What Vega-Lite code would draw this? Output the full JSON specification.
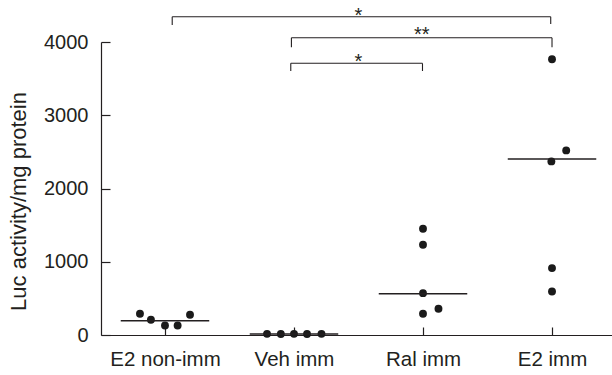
{
  "$schema": "https://vega.github.io/schema/vega-lite/v6.json",
  "width": 511,
  "height": 293,
  "autosize": {"type": "none"},
  "padding": {"left": 101, "top": 42, "right": 0, "bottom": 40},
  "background": "white",
  "config": {
    "view": {"stroke": null},
    "font": "Liberation Sans",
    "axis": {"grid": false, "domainColor": "#231f20", "tickColor": "#231f20", "labelColor": "#231f20", "titleColor": "#231f20", "labelFont": "Liberation Sans", "titleFont": "Liberation Sans", "titleFontWeight": "normal", "domainWidth": 1.2, "tickWidth": 1.2}
  },
  "datasets": {
    "points": [
      {"group": "E2 non-imm", "pos": -0.194, "value": 290},
      {"group": "E2 non-imm", "pos": -0.109, "value": 208},
      {"group": "E2 non-imm", "pos": 0.0, "value": 130},
      {"group": "E2 non-imm", "pos": 0.098, "value": 130},
      {"group": "E2 non-imm", "pos": 0.194, "value": 276},
      {"group": "Veh imm", "pos": 0.791, "value": 16},
      {"group": "Veh imm", "pos": 0.898, "value": 14},
      {"group": "Veh imm", "pos": 1.0, "value": 16},
      {"group": "Veh imm", "pos": 1.101, "value": 14},
      {"group": "Veh imm", "pos": 1.213, "value": 16},
      {"group": "Ral imm", "pos": 2.0, "value": 1451},
      {"group": "Ral imm", "pos": 2.0, "value": 1232},
      {"group": "Ral imm", "pos": 2.0, "value": 571},
      {"group": "Ral imm", "pos": 2.0, "value": 290},
      {"group": "Ral imm", "pos": 2.12, "value": 358},
      {"group": "E2 imm", "pos": 3.0, "value": 3764},
      {"group": "E2 imm", "pos": 3.11, "value": 2520},
      {"group": "E2 imm", "pos": 2.995, "value": 2370},
      {"group": "E2 imm", "pos": 3.0, "value": 913},
      {"group": "E2 imm", "pos": 3.0, "value": 594}
    ],
    "medians": [
      {"group": "E2 non-imm", "start": -0.343, "end": 0.343, "value": 194},
      {"group": "Veh imm", "start": 0.657, "end": 1.343, "value": 14},
      {"group": "Ral imm", "start": 1.657, "end": 2.343, "value": 563},
      {"group": "E2 imm", "start": 2.657, "end": 3.343, "value": 2402}
    ],
    "brackets": [
      {"x": 0.056, "x2": 2.99, "y": 4345, "y2": 4345},
      {"x": 0.056, "x2": 0.056, "y": 4345, "y2": 4232},
      {"x": 2.99, "x2": 2.99, "y": 4345, "y2": 4246},
      {"x": 0.98, "x2": 3.0, "y": 4059, "y2": 4059},
      {"x": 0.98, "x2": 0.98, "y": 4059, "y2": 3928},
      {"x": 3.0, "x2": 3.0, "y": 4059, "y2": 3928},
      {"x": 0.975, "x2": 1.996, "y": 3709, "y2": 3709},
      {"x": 0.975, "x2": 0.975, "y": 3709, "y2": 3604},
      {"x": 1.996, "x2": 1.996, "y": 3709, "y2": 3604}
    ],
    "stars": [
      {"x": 1.5, "y": 4355, "label": "*"},
      {"x": 1.99, "y": 4090, "label": "**"},
      {"x": 1.5, "y": 3722, "label": "*"}
    ]
  },
  "layer": [
    {
      "data": {"name": "points"},
      "mark": {"type": "circle", "size": 62, "opacity": 1, "color": "#1a1a1a"},
      "encoding": {
        "x": {"field": "pos", "type": "quantitative",
          "scale": {"domain": [-0.496, 3.465], "nice": false, "zero": false},
          "axis": {"values": [0, 1, 2, 3], "title": null, "tickSize": -8, "labelPadding": 22, "labelFontSize": 20.5,
            "labelExpr": "['E2 non-imm', 'Veh imm', 'Ral imm', 'E2 imm'][datum.value]", "labelFlush": false}},
        "y": {"field": "value", "type": "quantitative",
          "scale": {"domain": [0, 4000], "nice": false},
          "axis": {"values": [0, 1000, 2000, 3000, 4000], "format": "d", "title": "Luc activity/mg protein", "tickSize": -9, "labelPadding": 22, "labelFontSize": 20, "titleFontSize": 22, "titlePadding": 13, "titleY": 159}}
      }
    },
    {
      "data": {"name": "medians"},
      "mark": {"type": "rule", "color": "#231f20", "strokeWidth": 1.5},
      "encoding": {
        "x": {"field": "start", "type": "quantitative"},
        "x2": {"field": "end"},
        "y": {"field": "value", "type": "quantitative"}
      }
    },
    {
      "data": {"name": "brackets"},
      "mark": {"type": "rule", "color": "#231f20", "strokeWidth": 1.1},
      "encoding": {
        "x": {"field": "x", "type": "quantitative"},
        "x2": {"field": "x2"},
        "y": {"field": "y", "type": "quantitative"},
        "y2": {"field": "y2"}
      }
    },
    {
      "data": {"name": "stars"},
      "mark": {"type": "text", "fontSize": 20, "baseline": "middle", "align": "center", "color": "#231f20", "font": "Liberation Sans"},
      "encoding": {
        "x": {"field": "x", "type": "quantitative"},
        "y": {"field": "y", "type": "quantitative"},
        "text": {"field": "label"}
      }
    }
  ]
}
